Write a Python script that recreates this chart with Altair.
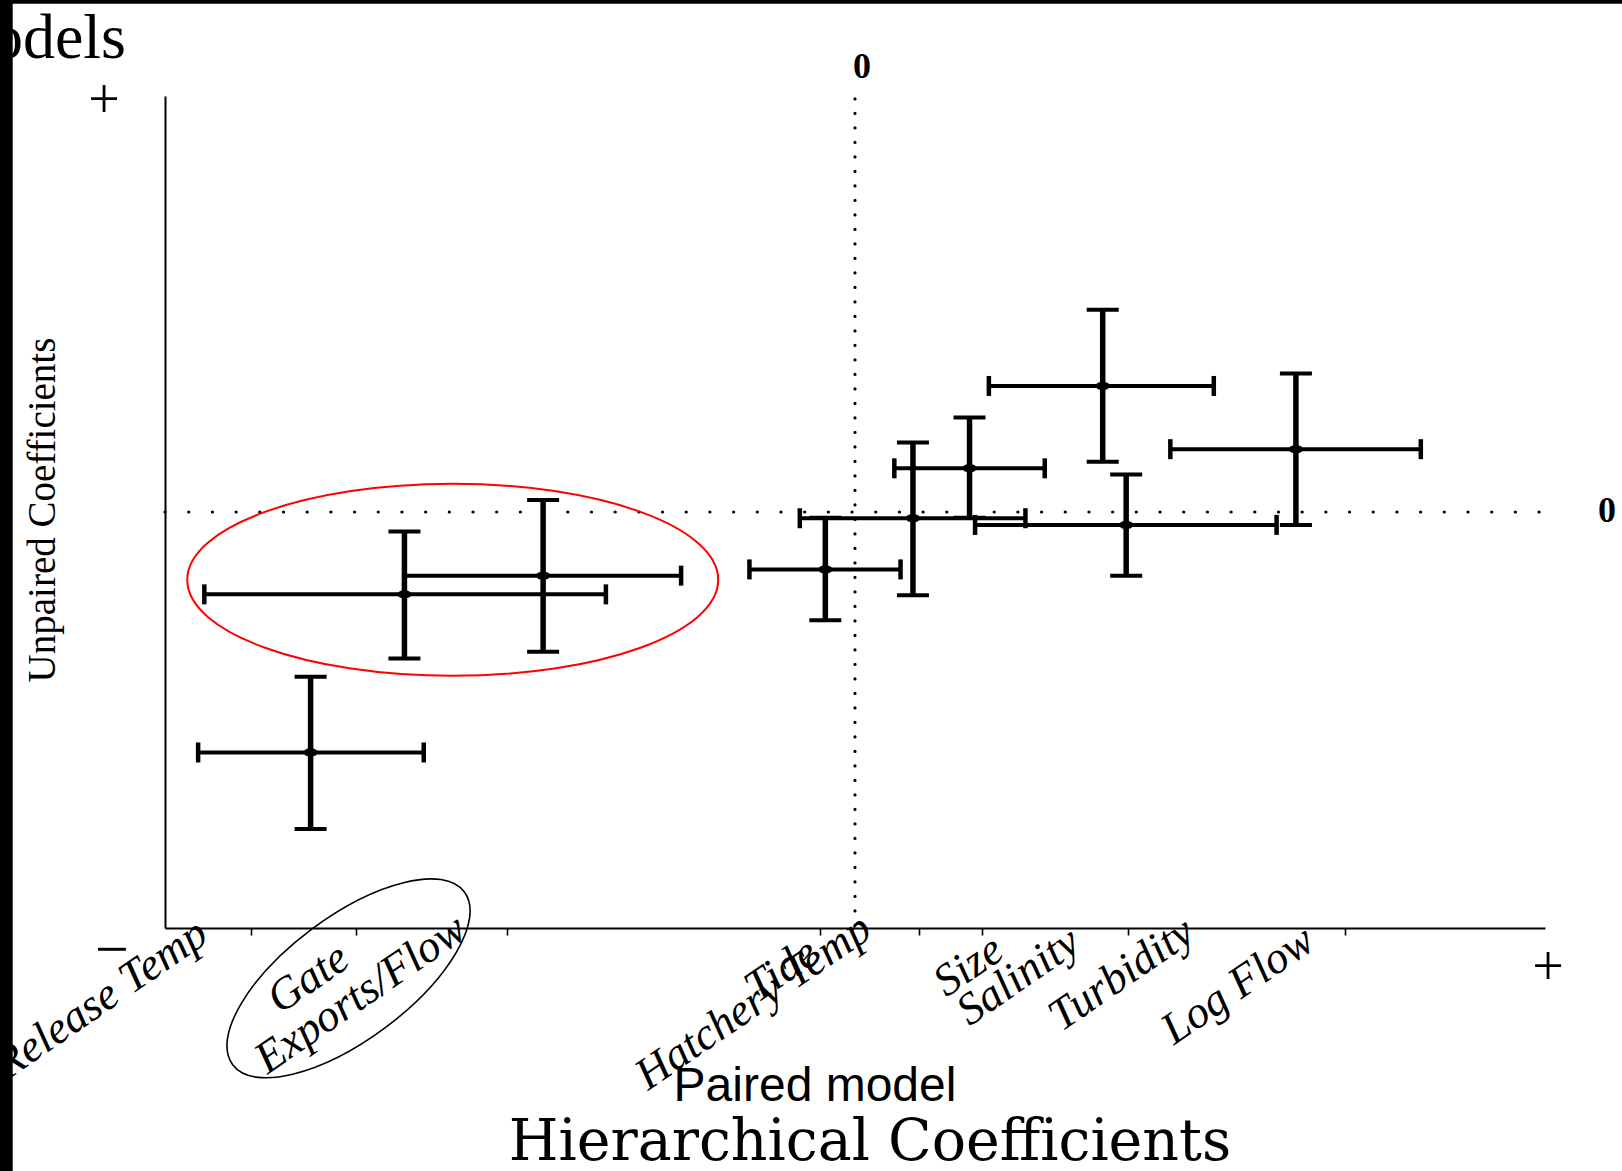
import altair as alt
import pandas as pd

# ---- data (arbitrary units, both axes span -1..1) ----
names = ["Release Temp", "Gate", "Exports/Flow", "Tide", "Hatchery Temp",
         "Size", "Salinity", "Turbidity", "Log Flow"]
paired_est = [-0.789, -0.653, -0.452, -0.043, 0.084, 0.166, 0.359, 0.393, 0.639]
paired_lo = [-0.952, -0.943, -0.653, -0.153, -0.080, 0.057, 0.194, 0.174, 0.457]
paired_hi = [-0.625, -0.361, -0.252, 0.066, 0.247, 0.275, 0.520, 0.611, 0.820]
unpaired_est = [-0.578, -0.198, -0.153, -0.138, -0.015, 0.105, 0.303, -0.031, 0.151]
unpaired_lo = [-0.762, -0.352, -0.336, -0.260, -0.200, -0.014, 0.121, -0.153, -0.031]
unpaired_hi = [-0.396, -0.047, 0.029, -0.014, 0.167, 0.227, 0.486, 0.090, 0.333]

# where each variable name sits below the x axis (end of the slanted label)
label_x = [-0.934, -0.729, -0.559, -0.049, 0.028, 0.219, 0.330, 0.496, 0.670]
label_y = [-1.030, -1.089, -1.019, -1.076, -1.018, -1.069, -1.050, -1.026, -1.046]

x_ticks = [-0.875, -0.723, -0.504, -0.051, 0.093, 0.184, 0.396, 0.710]

# zero reference lines (span of each dotted line, in data units)
zero_line = [0]
hline_from, hline_to = [-1.0], [0.995]
vline_from, vline_to = [0.993], [-1.0]

# annotation ellipses (centre in data units)
red_ellipse_x = [-0.583]
red_ellipse_y = [-0.163]
black_ellipse_x = [-0.734]
black_ellipse_y = [-1.121]

title_top = ["Models"]
x_title_1 = ["Paired model"]
x_title_2 = ["Hierarchical Coefficients"]
y_title = ["Unpaired Coefficients"]
plus_sign = ["+"]
minus_sign = ["\u2212"]
zero_sign = ["0"]

df = pd.DataFrame({
    "name": names, "x": paired_est, "xlo": paired_lo, "xhi": paired_hi,
    "y": unpaired_est, "ylo": unpaired_lo, "yhi": unpaired_hi,
    "lx": label_x, "ly": label_y,
})

W, H = 1380, 832
PL, PT = 165, 96

xs = alt.Scale(domain=[-1, 1], nice=False, zero=False)
ys = alt.Scale(domain=[-1, 1], nice=False, zero=False)
x_axis = alt.Axis(values=x_ticks, labels=False, ticks=True, tickSize=7, tickWidth=1.6,
                  tickColor="black", domainColor="black", domainWidth=2, grid=False,
                  title=None)
y_axis = alt.Axis(labels=False, ticks=False, domainColor="black", domainWidth=2,
                  grid=False, title=None)


def X(f):
    return alt.X(f, type="quantitative", scale=xs, axis=x_axis)


def Y(f):
    return alt.Y(f, type="quantitative", scale=ys, axis=y_axis)


hbars = alt.Chart(df).mark_rule(color="black", strokeWidth=4).encode(
    x=X("xlo"), x2="xhi:Q", y=Y("y"))

vbars = alt.Chart(df).mark_rule(color="black", strokeWidth=5.5).encode(
    x=X("x"), y=Y("ylo"), y2="yhi:Q")

hz_df = pd.DataFrame({"z": zero_line, "a": hline_from, "b": hline_to})
vz_df = pd.DataFrame({"z": zero_line, "a": vline_from, "b": vline_to})
vzero = alt.Chart(vz_df).mark_rule(
    color="black", strokeWidth=3.2, strokeCap="round", strokeDash=[0.1, 14.4]
).encode(x=X("z"), y=Y("a"), y2="b:Q")
hzero = alt.Chart(hz_df).mark_rule(
    color="black", strokeWidth=3.2, strokeCap="round", strokeDash=[0.1, 23.59]
).encode(y=Y("z"), x=X("a"), x2="b:Q")

vcap = "M0,-1L0,1"
hcap = "M-1,0L1,0"
cap_l = alt.Chart(df).mark_point(shape=vcap, size=400, filled=False, strokeWidth=4.5,
                                 color="black", opacity=1).encode(x=X("xlo"), y=Y("y"))
cap_r = alt.Chart(df).mark_point(shape=vcap, size=400, filled=False, strokeWidth=4.5,
                                 color="black", opacity=1).encode(x=X("xhi"), y=Y("y"))
cap_b = alt.Chart(df).mark_point(shape=hcap, size=1024, filled=False, strokeWidth=4,
                                 color="black", opacity=1).encode(x=X("x"), y=Y("ylo"))
cap_t = alt.Chart(df).mark_point(shape=hcap, size=1024, filled=False, strokeWidth=4,
                                 color="black", opacity=1).encode(x=X("x"), y=Y("yhi"))

dots = alt.Chart(df).mark_point(
    shape="M-1,0A1,0.6,0,1,1,1,0A1,0.6,0,1,1,-1,0Z", size=196, filled=True,
    color="black", opacity=1).encode(x=X("x"), y=Y("y"))

labels = alt.Chart(df).mark_text(
    font="Liberation Serif", fontStyle="italic", fontSize=45, angle=325.5,
    align="right", baseline="alphabetic", color="black"
).encode(x=X("lx"), y=Y("ly"), text="name:N")

red_ell = alt.Chart(pd.DataFrame({"ex": red_ellipse_x, "ey": red_ellipse_y})).mark_point(
    shape="M-1,0A1,0.3616,0,1,1,1,0A1,0.3616,0,1,1,-1,0Z", size=531 * 531,
    filled=False, stroke="#ff0000", strokeWidth=2, opacity=1
).encode(x=X("ex"), y=Y("ey"))

black_ell = alt.Chart(pd.DataFrame({"ex": black_ellipse_x, "ey": black_ellipse_y})).mark_point(
    shape="M-1,0A1,0.4256,0,1,1,1,0A1,0.4256,0,1,1,-1,0Z", size=289 * 289, angle=323.3,
    filled=False, stroke="black", strokeWidth=1.6, opacity=1
).encode(x=X("ex"), y=Y("ey"))


def txt(values, px, py, **kw):
    return alt.Chart(pd.DataFrame({"t": values})).mark_text(color="black", **kw).encode(
        text="t:N", x=alt.value(px - PL), y=alt.value(py - PT))


t_models = txt(title_top, -66, 58, font="Liberation Serif", fontSize=64, align="left",
               baseline="alphabetic")
t_paired = txt(x_title_1, 815, 1101, font="Liberation Sans", fontSize=48, align="center",
               baseline="alphabetic")
t_hier = txt(x_title_2, 870, 1160, font="DejaVu Serif", fontSize=57, align="center",
             baseline="alphabetic")
t_unp = txt(y_title, 55, 510, font="Liberation Serif", fontSize=39, align="center",
            baseline="alphabetic", angle=270)
t_plus1 = txt(plus_sign, 104, 118, font="Liberation Serif", fontSize=56, align="center",
              baseline="alphabetic")
t_plus2 = txt(plus_sign, 1548, 985, font="Liberation Serif", fontSize=56, align="center",
              baseline="alphabetic")
t_minus = txt(minus_sign, 112, 969, font="Liberation Serif", fontSize=60, align="center",
              baseline="alphabetic")
t_zero1 = txt(zero_sign, 862, 78, font="Liberation Serif", fontSize=36, fontWeight="bold",
              align="center", baseline="alphabetic")
t_zero2 = txt(zero_sign, 1598, 522, font="Liberation Serif", fontSize=36, fontWeight="bold",
              align="left", baseline="alphabetic")

bar_df = pd.DataFrame({"b": [1]})
left_bar = alt.Chart(bar_df).mark_rect(color="black").encode(
    x=alt.value(-PL), x2=alt.value(12.7 - PL), y=alt.value(-PT), y2=alt.value(1171 - PT))
top_bar = alt.Chart(bar_df).mark_rect(color="black").encode(
    x=alt.value(-PL), x2=alt.value(1622 - PL), y=alt.value(-PT), y2=alt.value(3.7 - PT))

chart = alt.layer(
    hbars, vzero, hzero, red_ell, black_ell, vbars, cap_l, cap_r, cap_b, cap_t, dots,
    labels, t_models, t_paired, t_hier, t_unp, t_plus1, t_plus2, t_minus, t_zero1,
    t_zero2, left_bar, top_bar,
).properties(
    width=W, height=H,
    autosize=alt.AutoSizeParams(type="none"),
    padding={"left": PL, "top": PT, "right": 1622 - PL - W, "bottom": 1171 - PT - H},
    background="white",
).configure_view(stroke=None)

chart.save("out.html", embed_options={"renderer": "svg", "actions": False})
